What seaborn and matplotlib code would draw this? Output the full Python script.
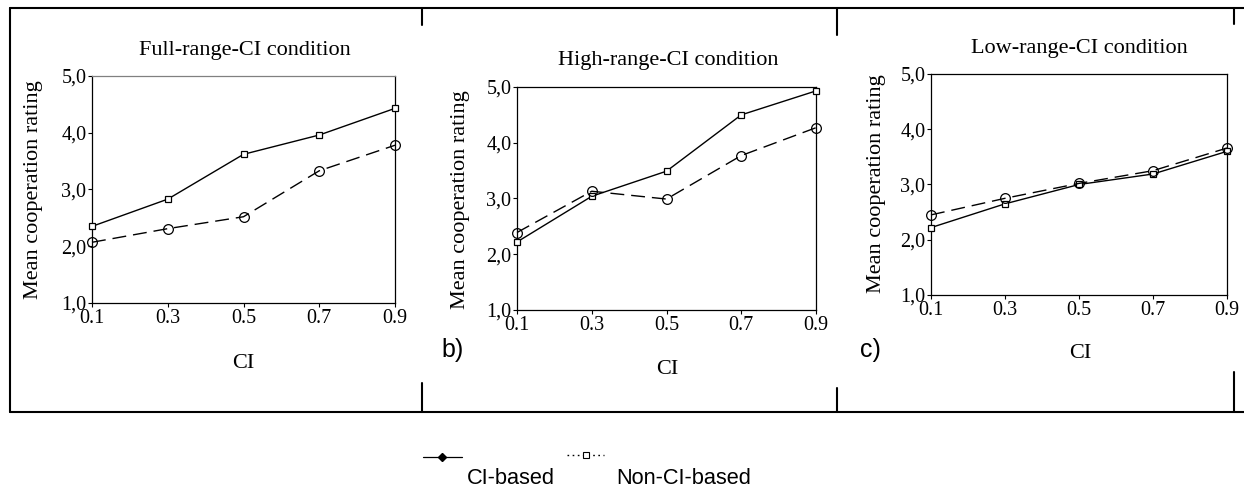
import matplotlib
matplotlib.use("Agg")
import matplotlib.pyplot as plt
from matplotlib.lines import Line2D
import seaborn as sns
import pandas as pd

sns.set_theme(style="white")
plt.rcParams['font.family'] = ['Liberation Serif', 'DejaVu Serif']
plt.rcParams['text.color'] = 'black'
plt.rcParams['axes.labelcolor'] = 'black'
plt.rcParams['xtick.color'] = 'black'
plt.rcParams['ytick.color'] = 'black'

ci = [0.1, 0.3, 0.5, 0.7, 0.9]
x_ticklabels = ["0.1", "0.3", "0.5", "0.7", "0.9"]
y_ticks = [1.0, 2.0, 3.0, 4.0, 5.0]
y_ticklabels = ["1,0", "2,0", "3,0", "4,0", "5,0"]

titles = ["Full-range-CI condition", "High-range-CI condition", "Low-range-CI condition"]

full_ci_based = [2.35, 2.83, 3.62, 3.96, 4.43]
full_non_ci = [2.07, 2.31, 2.52, 3.33, 3.78]
high_ci_based = [2.22, 3.04, 3.49, 4.50, 4.93]
high_non_ci = [2.39, 3.13, 2.99, 3.77, 4.27]
low_ci_based = [2.22, 2.65, 3.00, 3.19, 3.60]
low_non_ci = [2.45, 2.75, 3.02, 3.25, 3.66]

series = [(full_ci_based, full_non_ci), (high_ci_based, high_non_ci), (low_ci_based, low_non_ci)]

W, H = 1244, 490
fig = plt.figure(figsize=(W / 100, H / 100), dpi=100)

def fx(px):
    return px / W

def fy(py):
    return 1 - py / H

# axes boxes in pixels: left, right, top, bottom
boxes = [(92, 395, 76, 303), (517, 816, 87, 310), (931, 1227, 74, 295)]
title_pos = [(245, 51), (668, 61), (1079, 49)]
xlabel_pos = [(243, 363), (667, 370), (1080, 353)]
ylabel_pos = [(34, 190), (461, 200), (876, 184)]

TICK_FS = 14.5
LAB_FS = 16

for i, (l, r, t, b) in enumerate(boxes):
    ax = fig.add_axes([fx(l), fy(b), fx(r - l), (b - t) / H])
    cb, ncb = series[i]
    df = pd.DataFrame({"CI": ci, "CI-based": cb, "Non-CI-based": ncb})
    sns.lineplot(data=df, x="CI", y="CI-based", ax=ax, color="black", linewidth=1.0,
                 linestyle="-", marker="s", markersize=4.2, markerfacecolor="white",
                 markeredgecolor="black", markeredgewidth=0.9, zorder=3, clip_on=False)
    sns.lineplot(data=df, x="CI", y="Non-CI-based", ax=ax, color="black", linewidth=1.0,
                 linestyle=(0, (10, 5)), marker="o", markersize=7, markerfacecolor="none",
                 markeredgecolor="black", markeredgewidth=0.9, zorder=3, clip_on=False)
    ax.set_xlim(0.1, 0.9)
    ax.set_ylim(1.0, 5.0)
    ax.set_xticks(ci)
    ax.set_xticklabels(x_ticklabels, fontsize=TICK_FS)
    ax.set_yticks(y_ticks)
    ax.set_yticklabels(y_ticklabels, fontsize=TICK_FS)
    ax.tick_params(axis="both", which="major", direction="out", length=3, width=0.8,
                   colors="black", pad=1, left=True, bottom=True)
    ax.set_xlabel("")
    ax.set_ylabel("")
    for s in ax.spines.values():
        s.set_visible(True)
        s.set_color("black")
        s.set_linewidth(0.9)
    if i == 0:
        ax.spines["top"].set_color("#808080")
    fig.text(fx(title_pos[i][0]), fy(title_pos[i][1]), titles[i], ha="center", va="center",
             fontsize=LAB_FS, color="black")
    fig.text(fx(xlabel_pos[i][0]), fy(xlabel_pos[i][1]), "CI", ha="center", va="center",
             fontsize=LAB_FS, color="black")
    fig.text(fx(ylabel_pos[i][0]), fy(ylabel_pos[i][1]), "Mean cooperation rating", ha="center",
             va="center", rotation=90, fontsize=LAB_FS, color="black")

# panel letters
fig.text(fx(453), fy(350), "b)", ha="center", va="center", fontsize=18, family=["Liberation Sans"], color="black")
fig.text(fx(870), fy(350), "c)", ha="center", va="center", fontsize=18, family=["Liberation Sans"], color="black")

# outer frame pieces
frame_lw = 1.5
segs = [
    ((10, 1244), (8, 8)),
    ((10, 1244), (412, 412)),
    ((10, 10), (8, 412)),
    ((422, 422), (8, 25)), ((422, 422), (383, 412)),
    ((837, 837), (8, 35)), ((837, 837), (388, 412)),
    ((1234, 1234), (8, 24)), ((1234, 1234), (372, 412)),
]
for (x0, x1), (y0, y1) in segs:
    fig.add_artist(Line2D([fx(x0), fx(x1)], [fy(y0), fy(y1)], color="black", linewidth=frame_lw,
                          transform=fig.transFigure))

# legend (custom)
fig.add_artist(Line2D([fx(423), fx(462)], [fy(457), fy(457)], color="black", linewidth=0.9,
                      transform=fig.transFigure))
fig.add_artist(Line2D([fx(442)], [fy(457)], color="black", marker="D", markersize=4,
                      transform=fig.transFigure))
fig.add_artist(Line2D([fx(567), fx(604)], [fy(455), fy(455)], color="black", linewidth=1.0,
                      linestyle=(0, (1.2, 2.5)), transform=fig.transFigure))
fig.add_artist(Line2D([fx(586)], [fy(455)], color="black", marker="s", markersize=4.5,
                      markerfacecolor="white", markeredgewidth=0.8, transform=fig.transFigure))
fig.text(fx(467), fy(478), "CI-based", ha="left", va="center", fontsize=15.7,
         family=["Liberation Sans"], color="black")
fig.text(fx(616), fy(478), "Non-CI-based", ha="left", va="center", fontsize=15.7,
         family=["Liberation Sans"], color="black")

fig.savefig("out.png", dpi=100, facecolor="white")
